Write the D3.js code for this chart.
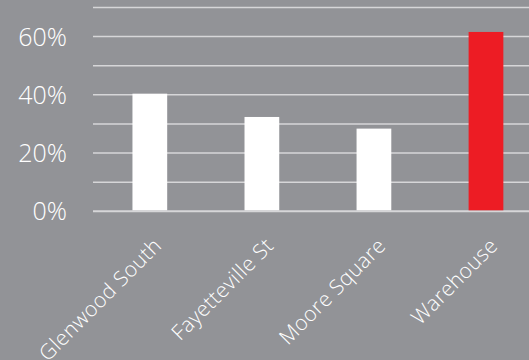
<!DOCTYPE html>
<html>
<head>
<meta charset="utf-8">
<script src="https://cdn.jsdelivr.net/npm/d3@7"></script>
<style>
  body { margin: 0; background: #929397; }
  svg { display: block; }
  text { font-family: "Open Sans", sans-serif; fill: #ffffff; font-weight: 300; }
</style>
</head>
<body>
<div id="vis"></div>
<script>
// frame
const FRAME_WIDTH = 529;
const FRAME_HEIGHT = 360;

// data
const categories = ["Glenwood South", "Fayetteville St", "Moore Square", "Warehouse"];
const values = [40.4, 32.4, 28.4, 61.6];
const barColors = ["#ffffff", "#ffffff", "#ffffff", "#ed1c24"];
const gridValues = [0, 10, 20, 30, 40, 50, 60, 70];
const tickLabels = [0, 20, 40, 60];

const FRAME = d3.select("#vis")
  .append("svg")
    .attr("width", FRAME_WIDTH)
    .attr("height", FRAME_HEIGHT);

FRAME.append("rect")
  .attr("width", FRAME_WIDTH)
  .attr("height", FRAME_HEIGHT)
  .attr("fill", "#929397");

const Y_SCALE = d3.scaleLinear()
  .domain([0, 70])
  .range([211.3, 7.5]);

const X_SCALE = d3.scaleBand()
  .domain(categories)
  .range([93.8, 542])
  .paddingInner(0.69)
  .paddingOuter(0.345);

// gridlines under the bars
FRAME.append("g")
  .selectAll("line")
  .data(gridValues)
  .enter()
  .append("line")
    .attr("x1", 93)
    .attr("x2", FRAME_WIDTH)
    .attr("y1", d => Y_SCALE(d))
    .attr("y2", d => Y_SCALE(d))
    .attr("stroke", "#d6d6d8")
    .attr("stroke-width", d => d === 0 ? 2 : 1.5);

FRAME.append("g")
  .selectAll("rect")
  .data(values)
  .enter()
  .append("rect")
    .attr("x", (d, i) => X_SCALE(categories[i]))
    .attr("y", d => Y_SCALE(d))
    .attr("width", X_SCALE.bandwidth())
    .attr("height", d => Y_SCALE(0) - 1 - Y_SCALE(d))
    .attr("fill", (d, i) => barColors[i]);

// y tick labels
FRAME.append("g")
  .selectAll("text")
  .data(tickLabels)
  .enter()
  .append("text")
    .attr("x", 67)
    .attr("y", d => Y_SCALE(d))
    .attr("dy", "0.36em")
    .attr("text-anchor", "end")
    .attr("font-size", "25px")
    .text(d => d + "%");

// x category labels, rotated
FRAME.append("g")
  .selectAll("text")
  .data(categories)
  .enter()
  .append("text")
    .attr("transform", d => "translate(" + (X_SCALE(d) + X_SCALE.bandwidth() / 2 + 13) + ",247) rotate(-45)")
    .attr("text-anchor", "end")
    .attr("font-size", "21px")
    .attr("letter-spacing", "0.4px")
    .text(d => d);
</script>
</body>
</html>
